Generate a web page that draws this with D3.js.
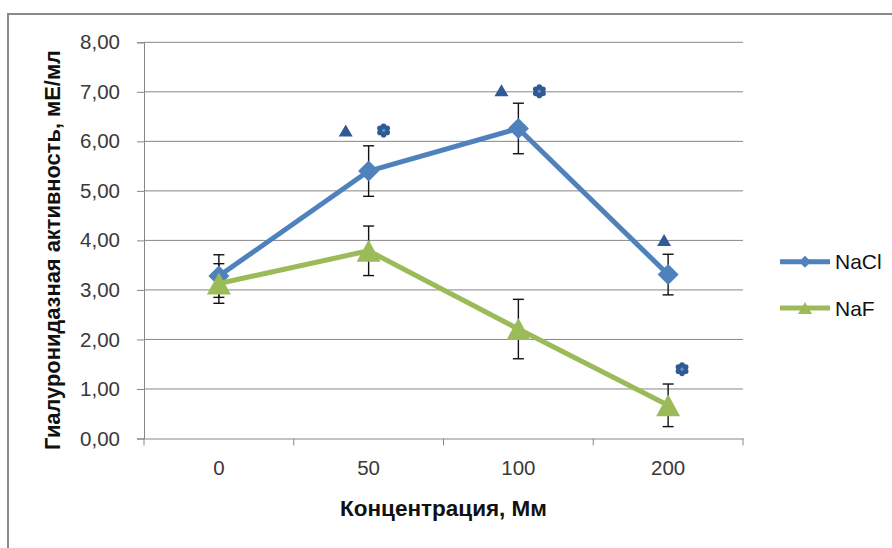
<!DOCTYPE html>
<html>
<head>
<meta charset="utf-8">
<script src="https://cdn.jsdelivr.net/npm/d3@7"></script>
<style>
  body { margin: 0; background: #fff; }
  svg { display: block; font-family: "Liberation Sans", Arial, sans-serif; }
</style>
</head>
<body>
<div id="chart"></div>
<script>
// data
const categories = ["0", "50", "100", "200"];
const naclValues = [3.28, 5.40, 6.26, 3.31];
const naclErrors = [0.43, 0.51, 0.51, 0.41];
const nafValues = [3.13, 3.79, 2.21, 0.67];
const nafErrors = [0.40, 0.50, 0.60, 0.43];
const yTicks = [0, 1, 2, 3, 4, 5, 6, 7, 8];

// significance marks: category, value, shift inside the band (fraction of band)
const markTriangles = [
  { cat: "50", value: 6.22, shift: -0.153 },
  { cat: "100", value: 7.03, shift: -0.113 },
  { cat: "200", value: 4.01, shift: -0.027 }
];
const markFlowers = [
  { cat: "50", value: 6.22, shift: 0.10 },
  { cat: "100", value: 7.01, shift: 0.14 },
  { cat: "200", value: 1.40, shift: 0.093 }
];

const width = 892, height = 548;
const margin = { top: 42.3, right: 149, bottom: 109.5, left: 144 };

const blue = "#4f81bd", green = "#9bbb59", mark = "#2f5b95", grid = "#868686";

const svg = d3.select("#chart").append("svg")
  .attr("width", width)
  .attr("height", height);

// outer frame (goes out past right and bottom edge)
svg.append("rect")
  .attr("x", 8).attr("y", 14)
  .attr("width", 900).attr("height", 600)
  .attr("fill", "none")
  .attr("stroke", "#8a8a8a")
  .attr("stroke-width", 2);

const x = d3.scaleBand()
  .domain(categories)
  .range([margin.left, width - margin.right]);

const y = d3.scaleLinear()
  .domain([0, 8])
  .range([height - margin.bottom, margin.top]);

const cx = c => x(c) + x.bandwidth() / 2;

// grid lines
svg.append("g")
  .selectAll("line")
  .data(yTicks.slice(1))
  .enter().append("line")
  .attr("x1", margin.left).attr("x2", width - margin.right)
  .attr("y1", d => y(d)).attr("y2", d => y(d))
  .attr("stroke", grid).attr("stroke-width", 1);

// y axis
const yAxis = svg.append("g")
  .attr("transform", "translate(" + margin.left + ",0)")
  .call(d3.axisLeft(y).tickValues(yTicks).tickSize(7).tickPadding(17)
    .tickFormat(d => d3.format(".2f")(d).replace(".", ",")));
yAxis.select(".domain").attr("stroke", grid);
yAxis.selectAll(".tick line").attr("stroke", grid);
yAxis.selectAll(".tick text")
  .attr("fill", "#3a3a3a")
  .style("font-size", "20.5px");

// x axis
const xAxis = svg.append("g")
  .attr("transform", "translate(0," + y(0) + ")")
  .call(d3.axisBottom(x).tickSize(0).tickPadding(22));
xAxis.select(".domain").attr("stroke", grid);
xAxis.selectAll(".tick text")
  .attr("fill", "#3a3a3a")
  .style("font-size", "20.5px");
// tick marks between categories
xAxis.selectAll(".sep")
  .data(categories.concat(["end"]))
  .enter().append("line")
  .attr("class", "sep")
  .attr("x1", (d, i) => i < categories.length ? x(d) : x(categories[i - 1]) + x.bandwidth())
  .attr("x2", (d, i) => i < categories.length ? x(d) : x(categories[i - 1]) + x.bandwidth())
  .attr("y1", 0).attr("y2", 7)
  .attr("stroke", grid);

// error bars
function errorBars(values, errors) {
  const g = svg.append("g").attr("stroke", "#111").attr("stroke-width", 1.4).attr("fill", "none");
  categories.forEach((c, i) => {
    const hi = y(values[i] + errors[i]), lo = y(values[i] - errors[i]);
    g.append("line").attr("x1", cx(c)).attr("x2", cx(c)).attr("y1", hi).attr("y2", lo);
    g.append("line").attr("x1", cx(c) - 5.5).attr("x2", cx(c) + 5.5).attr("y1", hi).attr("y2", hi);
    g.append("line").attr("x1", cx(c) - 5.5).attr("x2", cx(c) + 5.5).attr("y1", lo).attr("y2", lo);
  });
}
errorBars(naclValues, naclErrors);
errorBars(nafValues, nafErrors);

const line = d3.line()
  .x((d, i) => cx(categories[i]))
  .y(d => y(d));

const diamond = r => "M0," + (-r) + "L" + r + ",0L0," + r + "L" + (-r) + ",0Z";
const triangle = (w, h) => "M0," + (-h / 2) + "L" + (w / 2) + "," + (h / 2) + "L" + (-w / 2) + "," + (h / 2) + "Z";
const circle = (px, py, r) => "M" + (px - r) + "," + py + "a" + r + "," + r + " 0 1,0 " + (2 * r) + ",0a" + r + "," + r + " 0 1,0 " + (-2 * r) + ",0";
function flower(r) {
  let p = "";
  for (let k = 0; k < 6; k++) {
    const a = k * Math.PI / 3 + Math.PI / 6;
    p += circle(Math.cos(a) * r * 0.6, Math.sin(a) * r * 0.6, r * 0.4);
  }
  return p + circle(0, 0, r * 0.6);
}

// NaCl
svg.append("path")
  .datum(naclValues)
  .attr("d", line)
  .attr("fill", "none")
  .attr("stroke", blue)
  .attr("stroke-width", 5)
  .attr("stroke-linejoin", "round");
svg.append("g").selectAll("path")
  .data(naclValues)
  .enter().append("path")
  .attr("transform", (d, i) => "translate(" + cx(categories[i]) + "," + y(d) + ")")
  .attr("d", diamond(10.5))
  .attr("fill", blue);

// NaF
svg.append("path")
  .datum(nafValues)
  .attr("d", line)
  .attr("fill", "none")
  .attr("stroke", green)
  .attr("stroke-width", 5)
  .attr("stroke-linejoin", "round");
svg.append("g").selectAll("path")
  .data(nafValues)
  .enter().append("path")
  .attr("transform", (d, i) => "translate(" + cx(categories[i]) + "," + y(d) + ")")
  .attr("d", triangle(24, 22))
  .attr("fill", green);

// significance marks
svg.append("g").selectAll("path")
  .data(markTriangles)
  .enter().append("path")
  .attr("transform", d => "translate(" + (cx(d.cat) + d.shift * x.bandwidth()) + "," + y(d.value) + ")")
  .attr("d", triangle(14, 12))
  .attr("fill", mark);
const flowers = svg.append("g").selectAll("g")
  .data(markFlowers)
  .enter().append("g")
  .attr("transform", d => "translate(" + (cx(d.cat) + d.shift * x.bandwidth()) + "," + y(d.value) + ")");
flowers.append("path").attr("d", flower(7)).attr("fill", mark);
flowers.append("circle").attr("r", 1.6).attr("fill", "#6f8fbf");

// legend
const legend = svg.append("g");
[
  { name: "NaCl", color: blue, shape: diamond(6), cy: 261.7 },
  { name: "NaF", color: green, shape: triangle(14, 12), cy: 308 }
].forEach(item => {
  legend.append("line")
    .attr("x1", 780).attr("x2", 830)
    .attr("y1", item.cy).attr("y2", item.cy)
    .attr("stroke", item.color).attr("stroke-width", 5);
  legend.append("path")
    .attr("transform", "translate(805," + item.cy + ")")
    .attr("d", item.shape)
    .attr("fill", item.color);
  legend.append("text")
    .attr("x", 835).attr("y", item.cy + 7.5)
    .style("font-size", "21px")
    .attr("fill", "#111")
    .text(item.name);
});

// axis titles, fitted to the width seen in the picture
function fit(sel, target) {
  const w = sel.node().getComputedTextLength();
  const fs = parseFloat(sel.style("font-size"));
  sel.style("font-size", (fs * target / w) + "px");
}

const xTitle = svg.append("text")
  .attr("x", 443.5).attr("y", 516)
  .attr("text-anchor", "middle")
  .style("font-size", "20px")
  .style("font-weight", "bold")
  .attr("fill", "#111")
  .text("Концентрация, Мм");
fit(xTitle, 207);

const yTitle = svg.append("text")
  .attr("transform", "translate(60,250) rotate(-90)")
  .attr("text-anchor", "middle")
  .style("font-size", "20px")
  .style("font-weight", "bold")
  .attr("fill", "#111")
  .text("Гиалуронидазная активность, мЕ/мл");
fit(yTitle, 400);
</script>
</body>
</html>
